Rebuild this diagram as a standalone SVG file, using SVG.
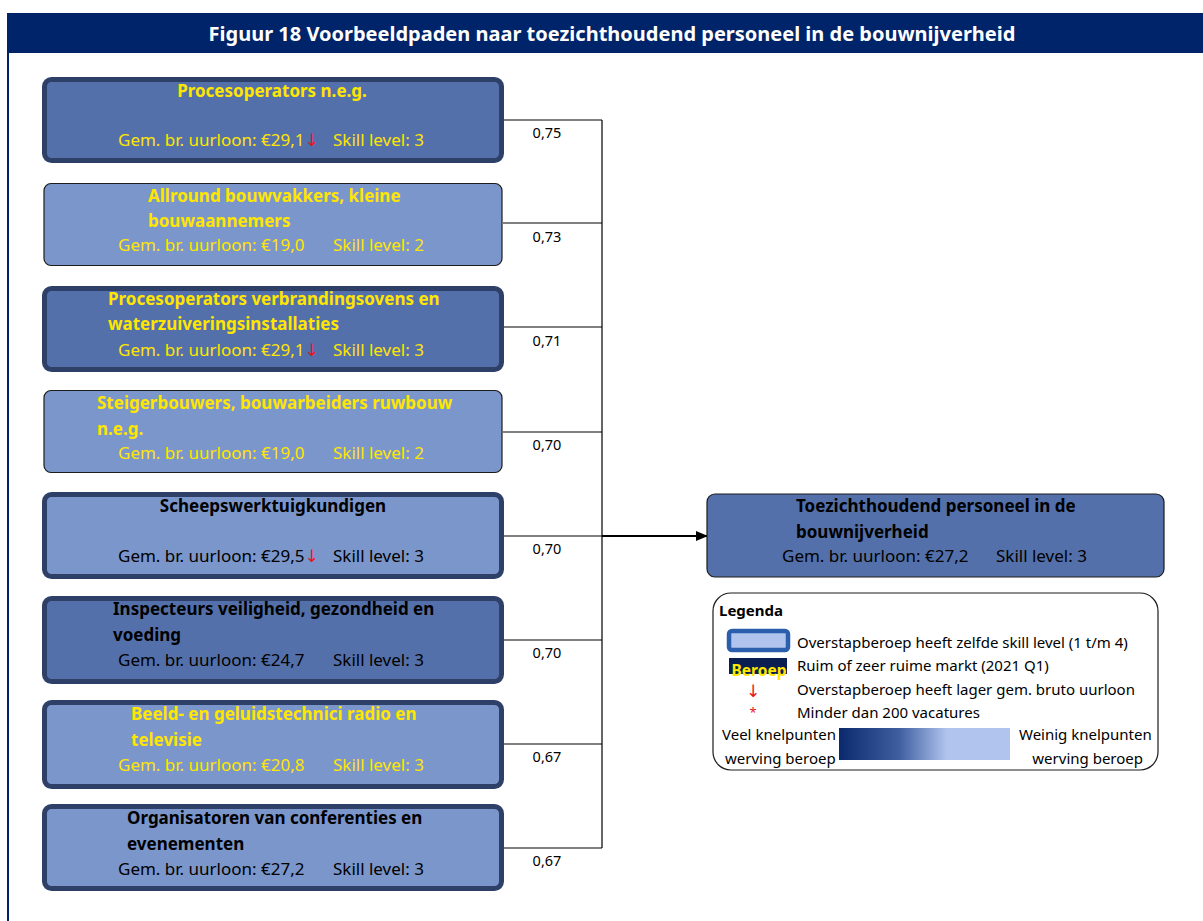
<svg xmlns="http://www.w3.org/2000/svg" width="1203" height="921" viewBox="0 0 1203 921">
  <style>
    text { font-family: "Noto Sans", "Open Sans", sans-serif; }
    .title { font-size: 20px; font-weight: bold; fill: #ffffff; }
    .name { font-size: 17px; font-weight: bold; }
    .info { font-size: 17px; }
    .yel { fill: #ffe600; }
    .blk { fill: #000000; }
    .arr { fill: #e8141c; font-family: "DejaVu Sans", sans-serif; font-size: 17px; }
    .val { font-size: 14.5px; fill: #000000; }
    .box-thick { stroke: #2f4068; stroke-width: 5; }
    .box-thin { stroke: #1c1c1c; stroke-width: 1.2; }
    .dark { fill: #5470aa; }
    .light { fill: #7b96cb; }
    .conn { fill: none; stroke: #000000; stroke-width: 1.2; }
    .leg { font-size: 15px; fill: #000000; }
  </style>
  <defs>
    <marker id="head" markerWidth="12" markerHeight="10" refX="11" refY="5" orient="auto" markerUnits="userSpaceOnUse">
      <path d="M0,0 L12,5 L0,10 Z" fill="#000000"/>
    </marker>
    <linearGradient id="scale" x1="0" y1="0" x2="1" y2="0">
      <stop offset="0" stop-color="#0b2a6e"/>
      <stop offset="0.35" stop-color="#3e5ea0"/>
      <stop offset="0.63" stop-color="#b0c4ee"/>
      <stop offset="1" stop-color="#b0c4ee"/>
    </linearGradient>
  </defs>

  <!-- frame -->
  <rect x="0" y="0" width="1203" height="921" fill="#ffffff"/>
  <rect x="7" y="13" width="1196" height="40" fill="#002469"/>
  <line x1="8" y1="53" x2="8" y2="921" stroke="#002469" stroke-width="2"/>
  <text class="title" x="612" y="41" text-anchor="middle">Figuur 18 Voorbeeldpaden naar toezichthoudend personeel in de bouwnijverheid</text>

  <!-- connectors -->
  <g id="connectors">
    <path class="conn" d="M503,120 H602 M503,223 H602 M503,327 H602 M503,432 H602 M503,536 H602 M503,640 H602 M503,744 H602 M503,848 H602 M602,120 V848"/>
    <line x1="602" y1="536" x2="707" y2="536" stroke="#000000" stroke-width="2" marker-end="url(#head)"/>
    <text class="val" x="547" y="138" text-anchor="middle">0,75</text>
    <text class="val" x="547" y="242" text-anchor="middle">0,73</text>
    <text class="val" x="547" y="346" text-anchor="middle">0,71</text>
    <text class="val" x="547" y="450" text-anchor="middle">0,70</text>
    <text class="val" x="547" y="554" text-anchor="middle">0,70</text>
    <text class="val" x="547" y="658" text-anchor="middle">0,70</text>
    <text class="val" x="547" y="762" text-anchor="middle">0,67</text>
    <text class="val" x="547" y="866" text-anchor="middle">0,67</text>
  </g>

  <g id="node-procesoperators">
    <rect class="box-thick dark" x="44.5" y="79.5" width="457" height="81" rx="7"/>
    <text class="name yel" x="272" y="97" text-anchor="middle">Procesoperators n.e.g.</text>
    <text class="info yel" x="118" y="146">Gem. br. uurloon: €29,1<tspan class="arr">↓</tspan></text>
    <text class="info yel" x="333" y="146">Skill level: 3</text>
  </g>

  <g id="node-allround">
    <rect class="box-thin light" x="44" y="183.5" width="458" height="82" rx="7"/>
    <text class="name yel" x="148" y="202">Allround bouwvakkers, kleine</text>
    <text class="name yel" x="148" y="227">bouwaannemers</text>
    <text class="info yel" x="118" y="251">Gem. br. uurloon: €19,0</text>
    <text class="info yel" x="333" y="251">Skill level: 2</text>
  </g>

  <g id="node-verbranding">
    <rect class="box-thick dark" x="44.5" y="288.5" width="457" height="81" rx="7"/>
    <text class="name yel" x="108" y="305">Procesoperators verbrandingsovens en</text>
    <text class="name yel" x="108" y="330">waterzuiveringsinstallaties</text>
    <text class="info yel" x="118" y="356">Gem. br. uurloon: €29,1<tspan class="arr">↓</tspan></text>
    <text class="info yel" x="333" y="356">Skill level: 3</text>
  </g>

  <g id="node-steigerbouwers">
    <rect class="box-thin light" x="44" y="390.5" width="458" height="82" rx="7"/>
    <text class="name yel" x="97" y="409">Steigerbouwers, bouwarbeiders ruwbouw</text>
    <text class="name yel" x="97" y="435">n.e.g.</text>
    <text class="info yel" x="118" y="459">Gem. br. uurloon: €19,0</text>
    <text class="info yel" x="333" y="459">Skill level: 2</text>
  </g>

  <g id="node-scheepswerktuigkundigen">
    <rect class="box-thick light" x="44.5" y="494.5" width="457" height="82" rx="7"/>
    <text class="name blk" x="273" y="512" text-anchor="middle">Scheepswerktuigkundigen</text>
    <text class="info blk" x="118" y="562">Gem. br. uurloon: €29,5<tspan class="arr">↓</tspan></text>
    <text class="info blk" x="333" y="562">Skill level: 3</text>
  </g>

  <g id="node-inspecteurs">
    <rect class="box-thick dark" x="44.5" y="598.5" width="457" height="83" rx="7"/>
    <text class="name blk" x="113" y="615">Inspecteurs veiligheid, gezondheid en</text>
    <text class="name blk" x="113" y="641">voeding</text>
    <text class="info blk" x="118" y="666">Gem. br. uurloon: €24,7</text>
    <text class="info blk" x="333" y="666">Skill level: 3</text>
  </g>

  <g id="node-beeldgeluid">
    <rect class="box-thick light" x="44.5" y="702.5" width="457" height="84" rx="7"/>
    <text class="name yel" x="131" y="720">Beeld- en geluidstechnici radio en</text>
    <text class="name yel" x="131" y="746">televisie</text>
    <text class="info yel" x="118" y="771">Gem. br. uurloon: €20,8</text>
    <text class="info yel" x="333" y="771">Skill level: 3</text>
  </g>

  <g id="node-organisatoren">
    <rect class="box-thick light" x="44.5" y="806.5" width="457" height="82" rx="7"/>
    <text class="name blk" x="127" y="824">Organisatoren van conferenties en</text>
    <text class="name blk" x="127" y="850">evenementen</text>
    <text class="info blk" x="118" y="875">Gem. br. uurloon: €27,2</text>
    <text class="info blk" x="333" y="875">Skill level: 3</text>
  </g>

  <g id="node-toezichthoudend">
    <rect class="box-thin dark" x="707" y="494" width="457" height="83" rx="8"/>
    <text class="name blk" x="796" y="512">Toezichthoudend personeel in de</text>
    <text class="name blk" x="796" y="538">bouwnijverheid</text>
    <text class="info blk" x="782" y="562">Gem. br. uurloon: €27,2</text>
    <text class="info blk" x="996" y="562">Skill level: 3</text>
  </g>

  <g id="legend">
    <rect x="713" y="593" width="445" height="177" rx="18" fill="#ffffff" stroke="#1c1c1c" stroke-width="1.2"/>
    <text x="719" y="616" font-size="15" font-weight="bold" fill="#000000">Legenda</text>
    <rect x="729" y="631" width="59" height="19" rx="3" fill="#b0c4ee" stroke="#2b5fae" stroke-width="4.5"/>
    <rect x="729" y="658" width="58" height="16" fill="#0b1e52"/>
    <text x="759" y="676" text-anchor="middle" font-size="15.5" font-weight="bold" fill="#ffe600">Beroep</text>
    <text class="arr" x="753" y="697" text-anchor="middle">↓</text>
    <text x="753" y="717" text-anchor="middle" font-size="13" fill="#e8141c">*</text>
    <text class="leg" x="797" y="648">Overstapberoep heeft zelfde skill level (1 t/m 4)</text>
    <text class="leg" x="797" y="671">Ruim of zeer ruime markt (2021 Q1)</text>
    <text class="leg" x="797" y="695">Overstapberoep heeft lager gem. bruto uurloon</text>
    <text class="leg" x="797" y="718">Minder dan 200 vacatures</text>
    <text class="leg" x="722" y="740">Veel knelpunten</text>
    <text class="leg" x="725" y="764">werving beroep</text>
    <rect x="839" y="728" width="171" height="32" fill="url(#scale)"/>
    <text class="leg" x="1019" y="740">Weinig knelpunten</text>
    <text class="leg" x="1143" y="764" text-anchor="end">werving beroep</text>
  </g>
</svg>
